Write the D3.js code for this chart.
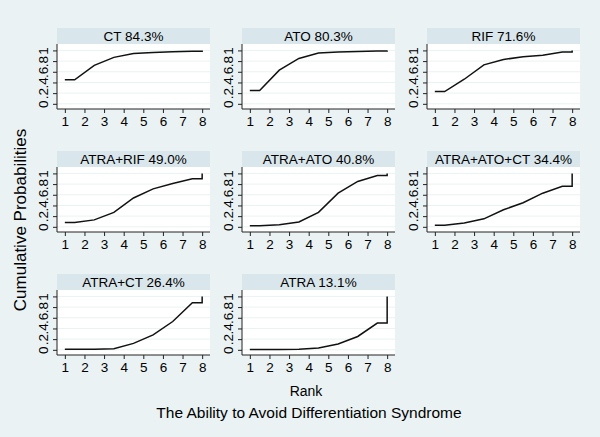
<!DOCTYPE html>
<meta charset="utf-8">
<style>
    html, body { margin: 0; padding: 0; background: #eaf2f3; }
    text { font-family: "Liberation Sans", Arial, sans-serif; fill: #000; }
</style>
<body>
<script src="https://cdnjs.cloudflare.com/ajax/libs/d3/7.8.5/d3.min.js"></script>
<script>
  // panels in reading order
  var treatments = ["CT", "ATO", "RIF", "ATRA+RIF", "ATRA+ATO", "ATRA+ATO+CT", "ATRA+CT", "ATRA"];
  var sucra = ["84.3%", "80.3%", "71.6%", "49.0%", "40.8%", "34.4%", "26.4%", "13.1%"];

  // cumulative probability of being within rank 1..8
  var cumCT        = [0.45, 0.72, 0.87, 0.94, 0.96, 0.975, 0.985, 1];
  var cumATO       = [0.25, 0.63, 0.85, 0.95, 0.97, 0.98, 0.99, 1];
  var cumRIF       = [0.23, 0.46, 0.73, 0.83, 0.88, 0.91, 0.97, 1];
  var cumATRA_RIF  = [0.08, 0.13, 0.27, 0.54, 0.71, 0.81, 0.90, 1];
  var cumATRA_ATO  = [0.02, 0.04, 0.09, 0.27, 0.63, 0.85, 0.96, 1];
  var cumATRA_ATO_CT = [0.03, 0.07, 0.15, 0.32, 0.45, 0.63, 0.76, 1];
  var cumATRA_CT   = [0.01, 0.01, 0.02, 0.12, 0.28, 0.53, 0.88, 1];
  var cumATRA      = [0.005, 0.005, 0.01, 0.035, 0.11, 0.25, 0.50, 1];
  var cumulative = [cumCT, cumATO, cumRIF, cumATRA_RIF, cumATRA_ATO, cumATRA_ATO_CT, cumATRA_CT, cumATRA];

  var rankTicks = [1, 2, 3, 4, 5, 6, 7, 8];
  var probTicks = [0, 0.2, 0.4, 0.6, 0.8, 1];
  var probLabels = ["0", ".2", ".4", ".6", ".8", "1"];

  var W = 600, H = 437;
  var colX = [57, 242, 427], rowY = [28, 151, 274];
  var pw = 153, stripH = 16, ph = 65;

  var svg = d3.select("body").append("svg").attr("width", W).attr("height", H);
  svg.append("rect").attr("width", W).attr("height", H).attr("fill", "#eaf2f3");

  var x = d3.scaleLinear().domain([0.6, 8.4]).range([0, pw]);
  var y = d3.scaleLinear().domain([-0.097, 1.12]).range([ph, 0]);

  // Stata style: flat to 1.5, joins at mid points, flat to 8 then jump to 1
  function stepPoints(c) {
    var pts = [[1, c[0]], [1.5, c[0]]];
    for (var k = 1; k < 7; k++) pts.push([k + 1.5, c[k]]);
    pts.push([8, c[6]]);
    pts.push([8, c[7]]);
    return pts;
  }
  var line = d3.line().x(function(d) { return x(d[0]); }).y(function(d) { return y(d[1]); });

  treatments.forEach(function(t, i) {
    var g = svg.append("g")
      .attr("transform", "translate(" + colX[i % 3] + "," + rowY[Math.floor(i / 3)] + ")");

    g.append("rect").attr("width", pw).attr("height", stripH).attr("fill", "#d9e6eb");
    g.append("text").attr("x", pw / 2).attr("y", stripH - 3)
      .attr("text-anchor", "middle").style("font-size", "13.5px")
      .text(t + " " + sucra[i]);

    var p = g.append("g").attr("transform", "translate(0," + stripH + ")");
    p.append("rect").attr("width", pw).attr("height", ph).attr("fill", "#fff");

    p.selectAll("line.grid").data(probTicks).enter().append("line")
      .attr("class", "grid")
      .attr("x1", 0).attr("x2", pw)
      .attr("y1", function(d) { return y(d); }).attr("y2", function(d) { return y(d); })
      .attr("stroke", "#eaf2f3").attr("stroke-width", 1);

    var ya = p.append("g").call(d3.axisLeft(y).tickValues(probTicks).tickSize(4).tickFormat(""));
    ya.select(".domain").attr("d", "M0,0V" + ph).attr("stroke", "#222");
    ya.selectAll(".tick line").attr("stroke", "#222");
    ya.selectAll(".tick").append("text")
      .attr("transform", "translate(-9,0) rotate(-90)")
      .attr("text-anchor", "middle")
      .style("font-size", "13.5px")
      .text(function(d, j) { return probLabels[j]; });

    var xa = p.append("g").attr("transform", "translate(0," + ph + ")")
      .call(d3.axisBottom(x).tickValues(rankTicks).tickSize(4).tickFormat(""));
    xa.select(".domain").attr("d", "M0,0H" + pw).attr("stroke", "#222");
    xa.selectAll(".tick line").attr("stroke", "#222");
    xa.selectAll(".tick").append("text")
      .attr("y", 17).attr("text-anchor", "middle")
      .style("font-size", "13.5px")
      .text(function(d) { return d; });

    p.append("path").datum(stepPoints(cumulative[i]))
      .attr("d", line).attr("fill", "none")
      .attr("stroke", "#111").attr("stroke-width", 1.5);
  });

  svg.append("text").attr("transform", "translate(26,220) rotate(-90)")
    .attr("text-anchor", "middle").style("font-size", "17px")
    .text("Cumulative Probabilities");
  svg.append("text").attr("x", 306).attr("y", 396)
    .attr("text-anchor", "middle").style("font-size", "14px").text("Rank");
  svg.append("text").attr("x", 309).attr("y", 418)
    .attr("text-anchor", "middle").style("font-size", "15.5px")
    .text("The Ability to Avoid Differentiation Syndrome");
</script>
